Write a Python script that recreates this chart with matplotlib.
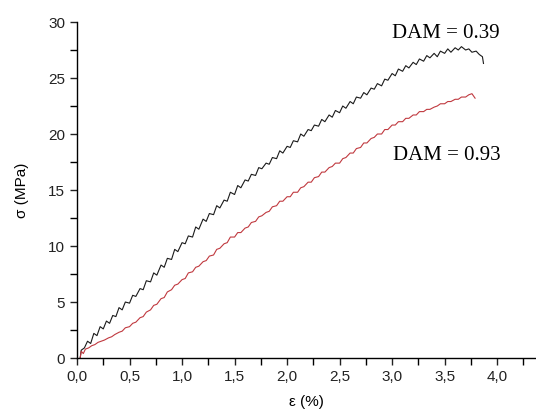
import matplotlib.pyplot as plt
from matplotlib.ticker import MultipleLocator, FuncFormatter

# DAM = 0.39 curve (black)
strain_a = [0.03, 0.04, 0.07, 0.10, 0.13, 0.16, 0.19, 0.22, 0.25, 0.28, 0.31, 0.34, 0.37,
            0.40, 0.43, 0.46, 0.50, 0.53, 0.56, 0.60, 0.63, 0.66, 0.70, 0.73, 0.76, 0.80,
            0.83, 0.86, 0.90, 0.93, 0.96, 1.00, 1.03, 1.06, 1.10, 1.13, 1.16, 1.20, 1.23,
            1.26, 1.30, 1.33, 1.36, 1.40, 1.43, 1.46, 1.50, 1.53, 1.56, 1.60, 1.63, 1.66,
            1.70, 1.73, 1.76, 1.80, 1.83, 1.86, 1.90, 1.93, 1.96, 2.00, 2.03, 2.06, 2.10,
            2.13, 2.16, 2.20, 2.23, 2.26, 2.30, 2.33, 2.36, 2.40, 2.43, 2.46, 2.50, 2.53,
            2.56, 2.60, 2.63, 2.66, 2.70, 2.73, 2.76, 2.80, 2.83, 2.86, 2.90, 2.93, 2.96,
            3.00, 3.03, 3.06, 3.10, 3.13, 3.16, 3.20, 3.23, 3.26, 3.30, 3.33, 3.36, 3.40,
            3.43, 3.46, 3.50, 3.53, 3.56, 3.60, 3.63, 3.66, 3.70, 3.73, 3.76, 3.80, 3.83,
            3.86, 3.87]
stress_a = [0.0, 0.7, 0.9, 1.5, 1.3, 2.2, 2.0, 2.8, 2.6, 3.3, 3.1, 3.8, 3.7,
            4.5, 4.3, 5.0, 4.9, 5.6, 5.5, 6.2, 6.1, 6.9, 6.8, 7.6, 7.4, 8.3,
            8.1, 8.9, 8.8, 9.7, 9.5, 10.3, 10.2, 10.9, 10.8, 11.7, 11.5, 12.4, 12.2,
            12.9, 12.8, 13.6, 13.4, 14.1, 14.0, 14.8, 14.6, 15.4, 15.2, 15.9, 15.8, 16.4,
            16.3, 17.0, 16.9, 17.4, 17.3, 17.9, 17.8, 18.5, 18.3, 18.9, 18.8, 19.4, 19.3,
            20.0, 19.8, 20.4, 20.3, 20.8, 20.7, 21.3, 21.1, 21.7, 21.5, 22.1, 21.9, 22.5,
            22.3, 22.9, 22.7, 23.3, 23.2, 23.7, 23.5, 24.1, 24.0, 24.5, 24.3, 24.9, 24.8,
            25.4, 25.2, 25.8, 25.6, 26.1, 25.9, 26.4, 26.2, 26.7, 26.5, 27.0, 26.8, 27.2,
            26.9, 27.4, 27.2, 27.6, 27.3, 27.7, 27.5, 27.8, 27.5, 27.6, 27.3, 27.4, 27.1,
            26.9, 26.3]

# DAM = 0.93 curve (red)
strain_b = [0.03, 0.04, 0.06, 0.08, 0.11, 0.14, 0.17, 0.20, 0.23, 0.26, 0.30, 0.33, 0.36,
            0.40, 0.43, 0.46, 0.50, 0.53, 0.56, 0.60, 0.63, 0.66, 0.70, 0.73, 0.76, 0.80,
            0.83, 0.86, 0.90, 0.93, 0.96, 1.00, 1.03, 1.06, 1.10, 1.13, 1.16, 1.20, 1.23,
            1.26, 1.30, 1.33, 1.36, 1.40, 1.43, 1.46, 1.50, 1.53, 1.56, 1.60, 1.63, 1.66,
            1.70, 1.73, 1.76, 1.80, 1.83, 1.86, 1.90, 1.93, 1.96, 2.00, 2.03, 2.06, 2.10,
            2.13, 2.16, 2.20, 2.23, 2.26, 2.30, 2.33, 2.36, 2.40, 2.43, 2.46, 2.50, 2.53,
            2.56, 2.60, 2.63, 2.66, 2.70, 2.73, 2.76, 2.80, 2.83, 2.86, 2.90, 2.93, 2.96,
            3.00, 3.03, 3.06, 3.10, 3.13, 3.16, 3.20, 3.23, 3.26, 3.30, 3.33, 3.36, 3.40,
            3.43, 3.46, 3.50, 3.53, 3.56, 3.60, 3.63, 3.66, 3.70, 3.73, 3.76, 3.79]
stress_b = [0.0, 0.6, 0.4, 0.8, 0.9, 1.1, 1.2, 1.4, 1.5, 1.6, 1.8, 1.9, 2.1,
            2.3, 2.4, 2.7, 2.8, 3.1, 3.2, 3.6, 3.7, 4.1, 4.3, 4.7, 4.8, 5.3,
            5.4, 5.9, 6.1, 6.5, 6.6, 7.0, 7.1, 7.6, 7.7, 8.1, 8.2, 8.6, 8.7,
            9.1, 9.2, 9.7, 9.8, 10.2, 10.3, 10.8, 10.8, 11.2, 11.2, 11.6, 11.7, 12.1,
            12.2, 12.6, 12.7, 13.0, 13.1, 13.5, 13.6, 14.0, 14.0, 14.4, 14.4, 14.8, 14.8,
            15.2, 15.3, 15.7, 15.7, 16.1, 16.2, 16.6, 16.6, 17.0, 17.1, 17.4, 17.4, 17.8,
            17.9, 18.3, 18.3, 18.7, 18.8, 19.2, 19.2, 19.6, 19.7, 20.0, 20.0, 20.4, 20.4,
            20.8, 20.8, 21.1, 21.1, 21.4, 21.4, 21.7, 21.7, 22.0, 22.0, 22.2, 22.2, 22.4,
            22.5, 22.7, 22.7, 22.9, 22.9, 23.1, 23.1, 23.3, 23.3, 23.5, 23.6, 23.2]

labels = ['DAM = 0.39', 'DAM = 0.93']

plt.rcParams['font.family'] = ['Liberation Sans', 'DejaVu Sans']

fig = plt.figure(figsize=(5.36, 4.12), dpi=100)
ax = fig.add_axes([0.1437, 0.131, 0.8563, 0.8156])

ax.plot(strain_a, stress_a, color='#1a1a1a', lw=0.8)
ax.plot(strain_b, stress_b, color='#c0393f', lw=0.8)

ax.text(3.51, 29.0, labels[0], family='Liberation Serif', fontsize=15,
        ha='center', va='center')
ax.text(3.52, 18.1, labels[1], family='Liberation Serif', fontsize=15,
        ha='center', va='center')

ax.set_xlim(0, 4.37)
ax.set_ylim(0, 30)
ax.xaxis.set_major_locator(MultipleLocator(0.5))
ax.xaxis.set_minor_locator(MultipleLocator(0.25))
ax.yaxis.set_major_locator(MultipleLocator(5))
ax.yaxis.set_minor_locator(MultipleLocator(2.5))
ax.xaxis.set_major_formatter(FuncFormatter(lambda v, p: f'{v:.1f}'.replace('.', ',')))

for s in ['top', 'right']:
    ax.spines[s].set_visible(False)
for s in ['left', 'bottom']:
    ax.spines[s].set_linewidth(1.0)
ax.tick_params(which='major', direction='out', length=5, width=1.0,
               labelsize=11, colors='#222222')
ax.tick_params(which='minor', direction='out', length=5, width=1.0)

ax.set_xlabel('ε (%)', fontsize=11, labelpad=8)
ax.set_ylabel('σ (MPa)', fontsize=11, labelpad=14)

plt.savefig('out.png', dpi=100)
